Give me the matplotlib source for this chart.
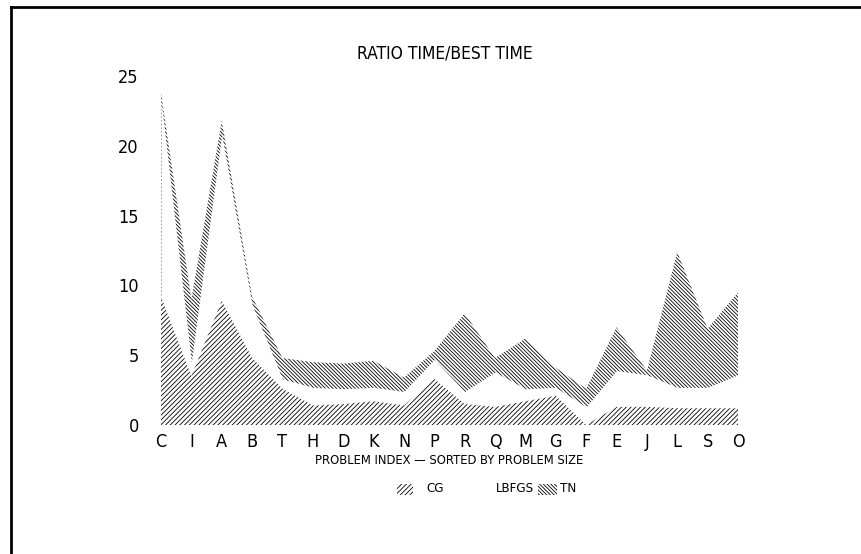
import matplotlib
matplotlib.use("Agg")
import matplotlib.pyplot as plt
from matplotlib.patches import Rectangle
from matplotlib.lines import Line2D
import numpy as np

# Problems, sorted by problem size
problems = ["C", "I", "A", "B", "T", "H", "D", "K", "N", "P",
            "R", "Q", "M", "G", "F", "E", "J", "L", "S", "O"]

# Ratio of each method's time to the best time
cg = [9.2, 3.5, 8.9, 4.8, 2.6, 1.4, 1.5, 1.7, 1.4, 3.3,
      1.5, 1.3, 1.7, 2.1, 0.0, 1.3, 1.3, 1.2, 1.2, 1.2]
lbfgs = [23.3, 4.5, 20.8, 8.6, 3.3, 2.7, 2.6, 2.7, 2.4, 4.7,
         2.4, 3.8, 2.6, 2.7, 1.3, 3.9, 3.6, 2.7, 2.7, 3.6]
tn = [23.8, 9.0, 21.8, 9.2, 4.8, 4.5, 4.4, 4.6, 3.4, 5.3,
      8.0, 4.8, 6.2, 4.1, 2.6, 7.0, 3.9, 12.4, 6.9, 9.5]

yticks = [0, 5, 10, 15, 20, 25]

plt.rcParams["font.family"] = ["DejaVu Sans"]
plt.rcParams["font.stretch"] = "condensed"
plt.rcParams["hatch.linewidth"] = 0.6
plt.rcParams["hatch.color"] = "black"

HATCH_CG = "/" * 7
HATCH_TN = "\\" * 9

W, H = 862, 554
fig = plt.figure(figsize=(W / 100, H / 100), dpi=100)
ax = fig.add_axes([161 / W, 1 - 425 / H, (738 - 161) / W, (425 - 76) / H])

x = np.arange(len(problems))

# Areas drawn back to front: TN, then LBFGS (blank), then CG
ax.fill_between(x, 0, tn, facecolor="white", edgecolor="black",
                linewidth=0, hatch=HATCH_TN)
ax.fill_between(x, 0, lbfgs, facecolor="white", edgecolor="white",
                linewidth=0)
ax.fill_between(x, 0, cg, facecolor="white", edgecolor="black",
                linewidth=0, hatch=HATCH_CG)

ax.set_xlim(0, len(problems) - 1)
ax.set_ylim(0, 25)
ax.set_xticks(x)
ax.set_xticklabels(problems, fontsize=13, fontstretch="condensed")
ax.set_yticks(yticks)
ax.set_yticklabels([str(v) for v in yticks], fontsize=13,
                   fontstretch="condensed")
ax.tick_params(length=0)
ax.tick_params(axis="y", pad=16)
ax.tick_params(axis="x", pad=6)
for s in ax.spines.values():
    s.set_visible(False)

fig.text(445 / W, 1 - 53 / H, "RATIO TIME/BEST TIME", ha="center",
         va="center", fontsize=12.5, fontstretch="condensed")
fig.text(449 / W, 1 - 460 / H, "PROBLEM INDEX \u2014 SORTED BY PROBLEM SIZE",
         ha="center", va="center", fontsize=9.3, fontstretch="condensed")

# Legend row
ly = 1 - 489 / H
sw_h = 11 / H
fig.patches.append(Rectangle((397 / W, ly - sw_h / 2), 16 / W, sw_h,
                             transform=fig.transFigure, facecolor="white",
                             edgecolor="black", linewidth=0, hatch=HATCH_CG))
fig.text(426 / W, ly, "CG", ha="left", va="center", fontsize=9.5,
         fontstretch="condensed")
fig.text(534 / W, ly, "LBFGS", ha="right", va="center", fontsize=9.5,
         fontstretch="condensed")
fig.patches.append(Rectangle((538 / W, ly - sw_h / 2), 19 / W, sw_h,
                             transform=fig.transFigure, facecolor="white",
                             edgecolor="black", linewidth=0, hatch=HATCH_TN))
fig.text(560 / W, ly, "TN", ha="left", va="center", fontsize=9.5,
         fontstretch="condensed")

# Outer frame (left and top edges)
fig.add_artist(Line2D([11 / W, 11 / W], [0, 1 - 7 / H], color="black",
                      linewidth=2, transform=fig.transFigure))
fig.add_artist(Line2D([11 / W, 1], [1 - 7 / H, 1 - 7 / H], color="black",
                      linewidth=2, transform=fig.transFigure))

fig.savefig("out.png", dpi=100, facecolor="white")
